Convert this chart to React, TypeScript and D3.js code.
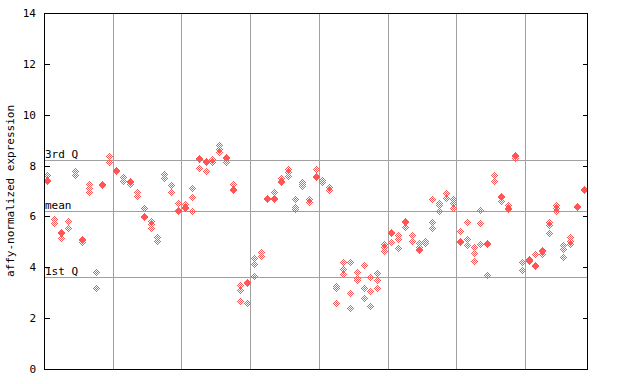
import React from "react";
import * as d3 from "d3";

// Expression values per sample (replicates)
const sampleValues: number[][] = [
  [7.63, 7.45, 7.41], [5.89, 5.75], [5.38, 5.34, 5.16], [5.82, 5.53], [7.80, 7.63],
  [5.10, 5.06, 4.98], [7.27, 7.10, 6.95], [3.83, 3.19], [7.26, 7.22], [8.38, 8.13],
  [7.82, 7.78], [7.56, 7.40], [7.41, 7.37, 7.26], [6.97, 6.81], [6.32, 6.01, 5.97],
  [5.82, 5.69, 5.53], [5.18, 5.03], [7.66, 7.50], [7.24, 6.97], [6.54, 6.24, 6.20],
  [6.49, 6.38, 6.34], [7.10, 6.75, 6.21], [8.29, 8.25, 7.89], [8.17, 8.13, 7.77], [8.24, 8.13],
  [8.81, 8.64, 8.52], [8.33, 8.29, 8.15], [7.27, 7.06, 7.02], [3.30, 3.11, 2.67], [3.41, 3.37, 2.58],
  [4.35, 4.12, 3.65], [4.59, 4.43], [6.73, 6.69], [6.95, 6.72, 6.68], [7.50, 7.39, 7.35],
  [7.85, 7.73, 7.60], [6.67, 6.36, 6.28], [7.37, 7.26, 7.20], [6.68, 6.57], [7.85, 7.58, 7.54],
  [7.43, 7.34], [7.17, 7.04], [3.26, 3.20, 2.58], [4.20, 3.92, 3.72], [4.20, 2.98, 2.39],
  [3.80, 3.57, 3.49], [4.09, 3.17, 2.78], [3.61, 3.07, 2.47], [3.76, 3.49, 3.17], [4.92, 4.79, 4.64],
  [5.40, 5.36, 4.99], [5.26, 5.10, 4.75], [5.81, 5.77, 5.60], [5.26, 5.02], [4.97, 4.79, 4.71, 4.67],
  [5.03, 4.94], [6.67, 5.80, 5.53], [6.52, 6.46, 6.20], [6.91, 6.71], [6.67, 6.52, 6.32],
  [5.41, 5.03, 4.99], [5.78, 5.10, 4.86], [4.81, 4.55, 4.24], [6.24, 5.73, 4.90], [4.97, 4.90, 3.68],
  [7.63, 7.38], [6.80, 6.76, 6.62], [6.43, 6.35, 6.31], [8.42, 8.38, 8.29], [4.20, 3.89],
  [4.34, 4.28, 4.24], [4.52, 4.08, 4.04], [4.67, 4.63, 4.53], [5.80, 5.65, 5.34], [6.43, 6.33, 6.20],
  [4.86, 4.71, 4.39], [5.20, 5.04, 4.93], [6.40, 6.36], [7.06, 7.02],
];

const yTicks = [0, 2, 4, 6, 8, 10, 12, 14];
const groupBreaks = [10, 20, 30, 40, 50, 60, 70];
const refLines = [
  { label: "3rd Q", value: 8.22 },
  { label: "mean", value: 6.21 },
  { label: "1st Q", value: 3.61 },
];

const W = 640, H = 384;
const L = 44, R = 587, T = 13, B = 369;
const RED = "#ff5555";
const GRID = "#a0a0a0";
const FONT = "'DejaVu Sans Mono', monospace";

// checkered diamond glyph
const glyphPath = (() => {
  let d = "";
  for (let dx = -3; dx <= 3; dx++)
    for (let dy = -3; dy <= 3; dy++) {
      const m = Math.abs(dx) + Math.abs(dy);
      if (m <= 3 && m % 2 === 1) d += `M${dx},${dy}h1v1h-1z`;
    }
  return d;
})();

export default function App() {
  const x = d3.scaleLinear().domain([0, sampleValues.length]).range([L, R]);
  const y = d3.scaleLinear().domain([0, 14]).range([B, T]);

  const points: { px: number; py: number; k: string }[] = [];
  sampleValues.forEach((vals, i) =>
    vals.forEach((v, j) =>
      points.push({ px: Math.round(x(i + 0.5)), py: Math.round(y(v)), k: `${i}-${j}` })
    )
  );

  return (
    <svg width={W} height={H} style={{ position: "absolute", left: 0, top: 0, background: "#fff" }}>
      <rect x={0} y={0} width={W} height={H} fill="#fff" />
      <g shapeRendering="crispEdges">
        {groupBreaks.map((g) => (
          <line key={g} x1={Math.round(x(g)) + 0.5} x2={Math.round(x(g)) + 0.5} y1={T} y2={B} stroke={GRID} />
        ))}
        {refLines.map((r) => (
          <line key={r.label} x1={L} x2={R} y1={Math.round(y(r.value)) + 0.5} y2={Math.round(y(r.value)) + 0.5} stroke={GRID} />
        ))}
      </g>
      {refLines.map((r) => (
        <text key={r.label} x={L + 1} y={Math.round(y(r.value)) - 2} fontFamily={FONT} fontSize={11} fill="#000">
          {r.label}
        </text>
      ))}
      <g shapeRendering="crispEdges">
        {points.map((p) => (
          <path key={p.k} d={glyphPath} transform={`translate(${p.px},${p.py})`} fill={RED} />
        ))}
      </g>
      <g shapeRendering="crispEdges">
        <rect x={L + 0.5} y={T + 0.5} width={R - L} height={B - T} fill="none" stroke="#000" />
        {yTicks.map((t) => (
          <g key={t}>
            <line x1={L} x2={L + 6} y1={Math.round(y(t)) + 0.5} y2={Math.round(y(t)) + 0.5} stroke="#000" />
            <line x1={R - 4} x2={R} y1={Math.round(y(t)) + 0.5} y2={Math.round(y(t)) + 0.5} stroke="#000" />
          </g>
        ))}
      </g>
      {yTicks.map((t) => (
        <text key={t} x={36} y={Math.round(y(t)) + 4} textAnchor="end" fontFamily={FONT} fontSize={11} fill="#000">
          {t}
        </text>
      ))}
      <text
        transform={`translate(14,${(T + B) / 2}) rotate(-90)`}
        textAnchor="middle"
        fontFamily={FONT}
        fontSize={11}
        fill="#000"
      >
        affy-normalized expression
      </text>
    </svg>
  );
}
